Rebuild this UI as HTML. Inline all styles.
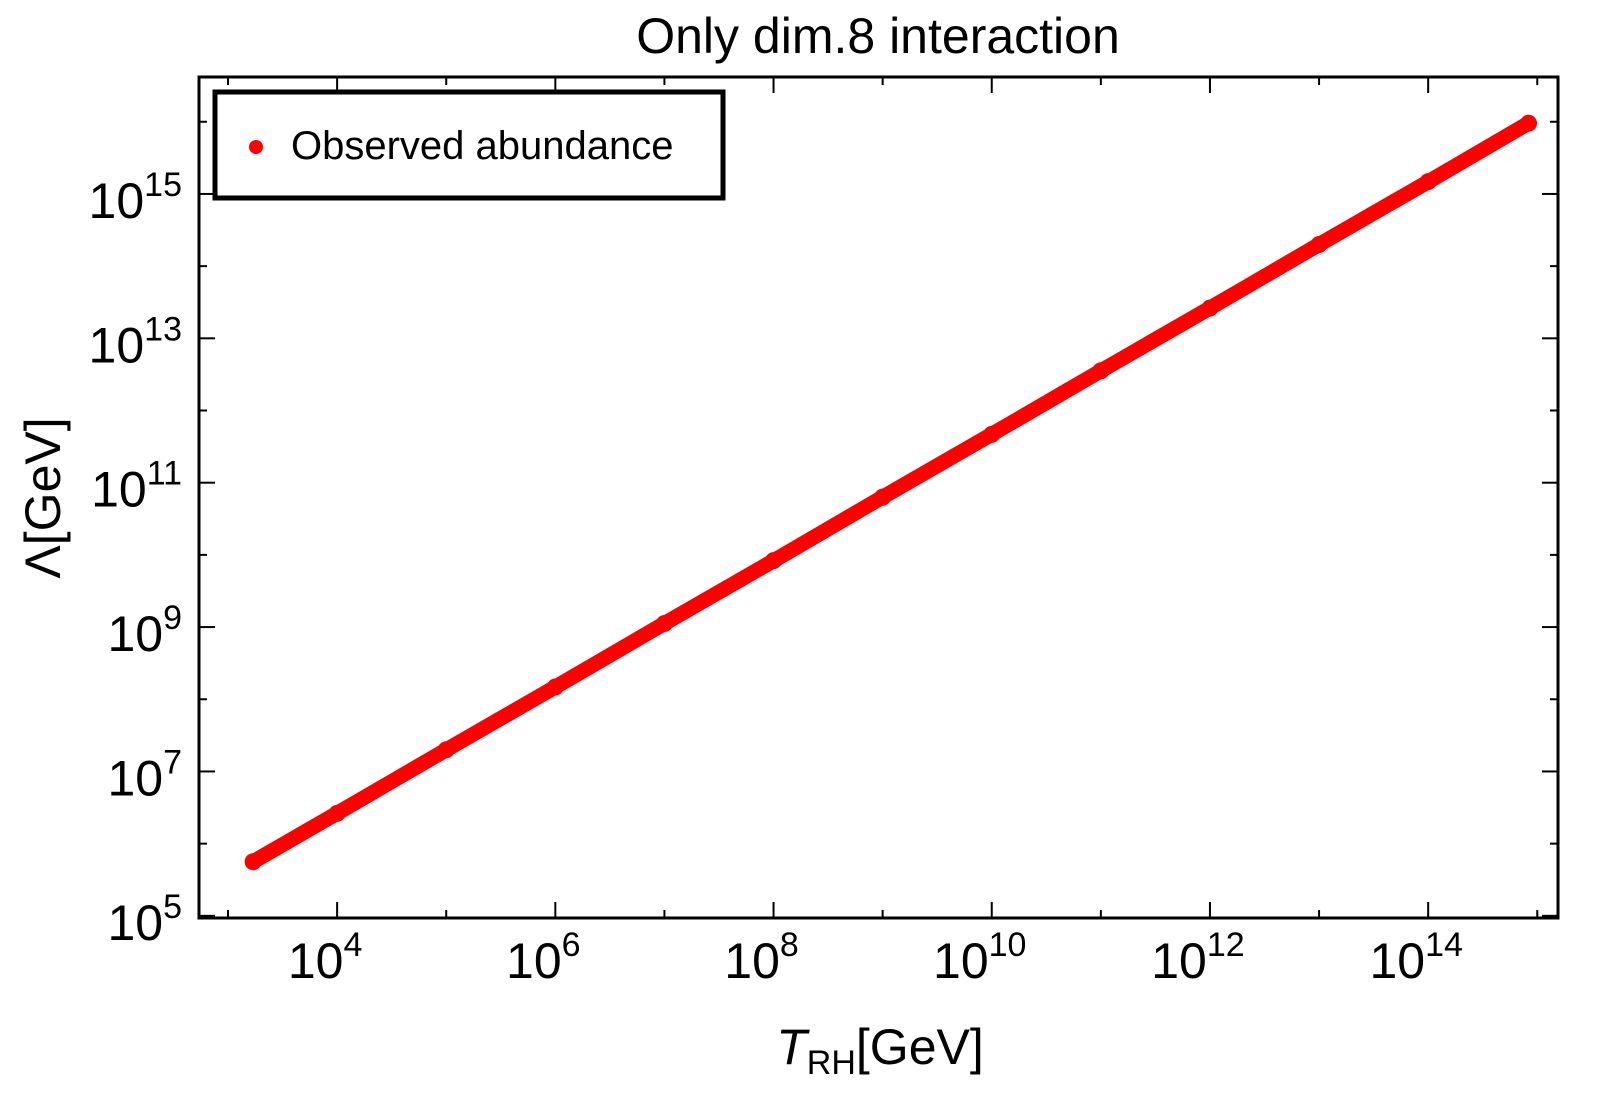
<!DOCTYPE html>
<html><head><meta charset="utf-8"><style>
html,body{margin:0;padding:0;background:#fff;}
svg{display:block;font-family:"Liberation Sans",sans-serif;}
</style></head><body>
<svg id="chart" width="1600" height="1100" viewBox="0 0 1600 1100">
<text x="878" y="53" font-size="50" text-anchor="middle">Only dim.8 interaction</text>
<g id="ticks"></g>
<g id="marks"></g>
<rect x="199" y="77" width="1359" height="841" fill="none" stroke="#000" stroke-width="3"/>
<g>
<rect x="215" y="92" width="508" height="106" fill="#fff" stroke="#000" stroke-width="5"/>
<circle cx="256" cy="147" r="7" fill="#ff0000"/>
<text x="291" y="159" font-size="40">Observed abundance</text>
</g>
<text x="880" y="1064" font-size="50" text-anchor="middle"><tspan font-style="italic">T</tspan><tspan font-size="34" dy="10">RH</tspan><tspan dy="-10">[GeV]</tspan></text>
<text transform="translate(60,498) rotate(-90)" font-size="50" text-anchor="middle">Λ[GeV]</text>
</svg>
<script>
const xTickExps = [4, 6, 8, 10, 12, 14];
const yTickExps = [5, 7, 9, 11, 13, 15];
const logT = [3.23, 4, 5, 6, 7, 8, 9, 10, 11, 12, 13, 14, 14.92];
const logLambda = [5.75, 6.42, 7.30, 8.17, 9.05, 9.92, 10.80, 11.67, 12.55, 13.42, 14.30, 15.17, 15.98];

const X0 = 199, X1 = 1558, Y0 = 918, Y1 = 77;
const xMin = 2.734, xMax = 15.19, yMin = 4.97, yMax = 16.62;
function sx(v){ return X0 + (v - xMin) / (xMax - xMin) * (X1 - X0); }
function sy(v){ return Y0 - (v - yMin) / (yMax - yMin) * (Y0 - Y1); }
const NS = "http://www.w3.org/2000/svg";
const ticks = document.getElementById('ticks');
const marks = document.getElementById('marks');
function line(x1,y1,x2,y2,name){
  const l = document.createElementNS(NS,'line');
  l.setAttribute('x1',x1); l.setAttribute('y1',y1); l.setAttribute('x2',x2); l.setAttribute('y2',y2);
  l.setAttribute('stroke','#000'); l.setAttribute('stroke-width','2');
  
  
  ticks.appendChild(l);
}
for (let e = 3; e <= 15; e++) {
  const x = sx(e); const major = xTickExps.includes(e); const L = major ? 16 : 8;
  line(x, Y0, x, Y0 - L, 'x-tick'); line(x, Y1, x, Y1 + L, 'x-tick-top');
}
for (let e = 5; e <= 16; e++) {
  const y = sy(e); const major = yTickExps.includes(e); const L = major ? 16 : 8;
  line(X0, y, X0 + L, y, 'y-tick'); line(X1, y, X1 - L, y, 'y-tick-right');
}
xTickExps.forEach(e => {
  const t = document.createElementNS(NS,'text');
  t.setAttribute('x', sx(e) - 12); t.setAttribute('y', 978);
  t.setAttribute('font-size','50'); t.setAttribute('text-anchor','middle');
  
  
  t.innerHTML = '10<tspan font-size="34" dy="-22">' + e + '</tspan>';
  ticks.appendChild(t);
});
yTickExps.forEach(e => {
  const t = document.createElementNS(NS,'text');
  t.setAttribute('x', 182); t.setAttribute('y', sy(e) + 24);
  t.setAttribute('font-size','50'); t.setAttribute('text-anchor','end');
  
  
  t.innerHTML = '10<tspan font-size="34" dy="-22">' + e + '</tspan>';
  ticks.appendChild(t);
});
const pts = logT.map((v,i) => sx(v).toFixed(1) + ',' + sy(logLambda[i]).toFixed(1)).join(' ');
const pl = document.createElementNS(NS,'polyline');
pl.setAttribute('points', pts); pl.setAttribute('fill','none');
pl.setAttribute('stroke','#ff0000'); pl.setAttribute('stroke-width','15');
pl.setAttribute('stroke-linecap','round'); pl.setAttribute('stroke-linejoin','round');


marks.appendChild(pl);
logT.forEach((v,i) => {
  const c = document.createElementNS(NS,'circle');
  c.setAttribute('cx', sx(v)); c.setAttribute('cy', sy(logLambda[i])); c.setAttribute('r', 8.5);
  c.setAttribute('fill','#ff0000');
  
  
  marks.appendChild(c);
});
</script>
</body></html>
